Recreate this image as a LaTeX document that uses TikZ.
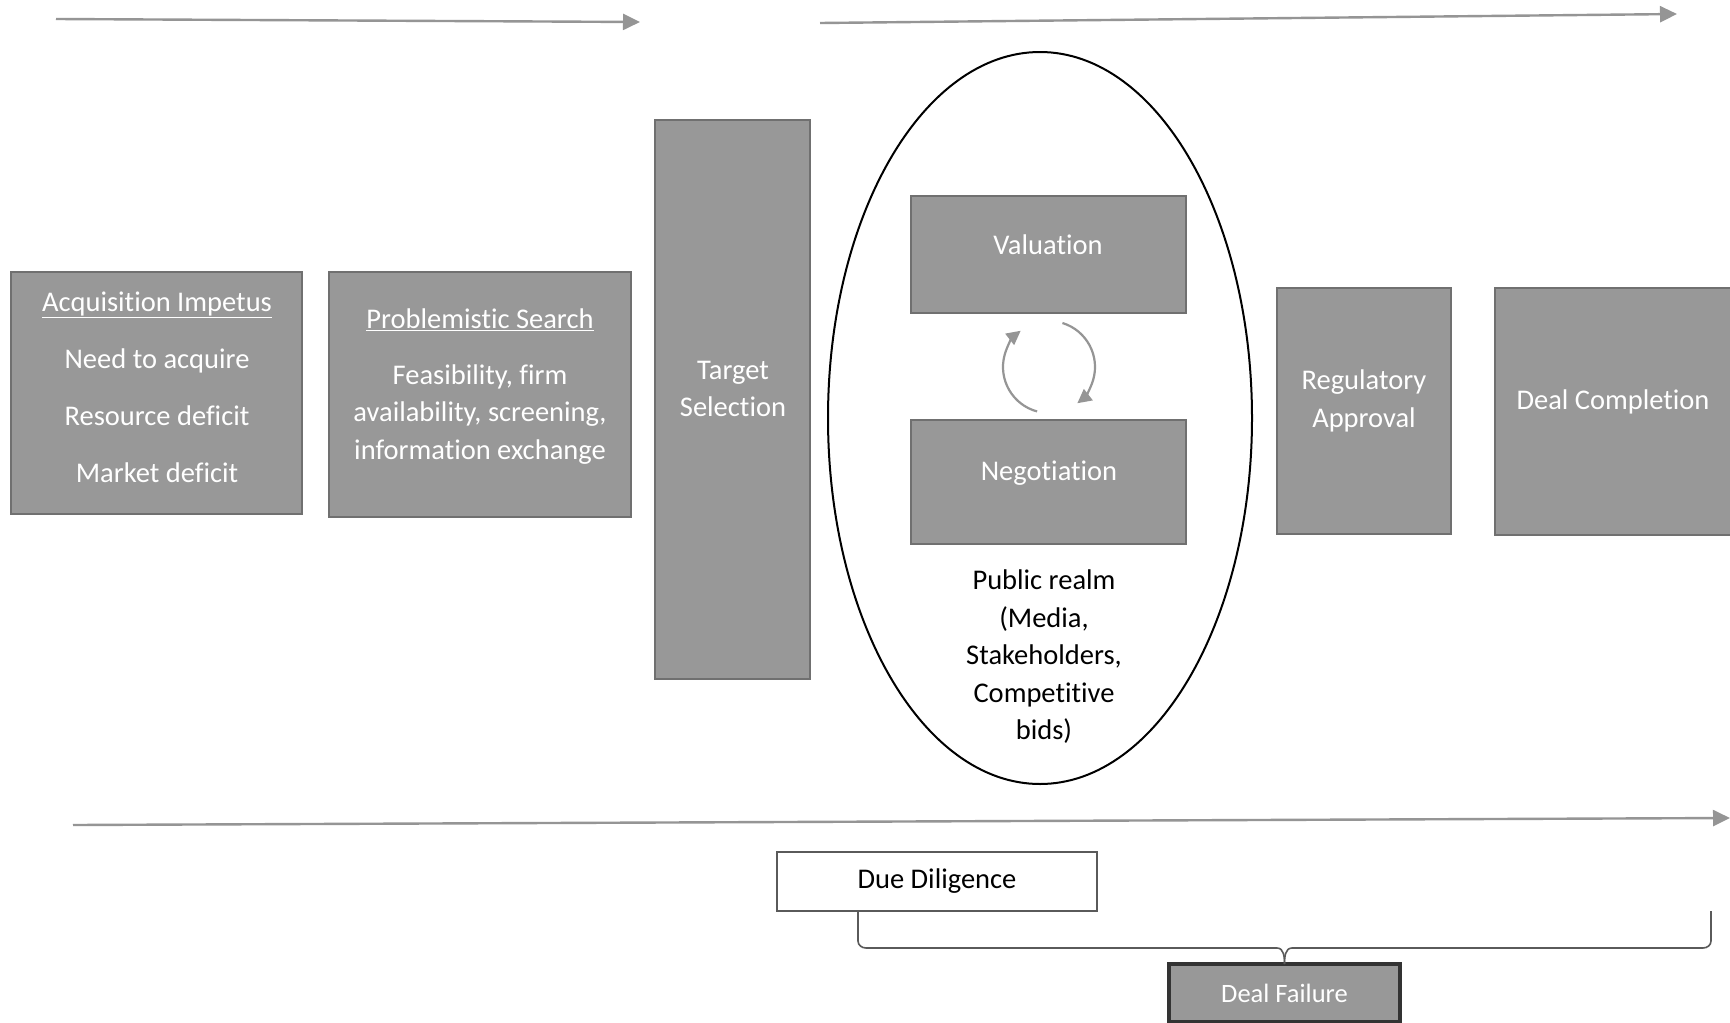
\documentclass[tikz,border=0pt]{standalone}
\usepackage{fontspec}
\setmainfont{Carlito}[Ligatures={NoCommon}]
\usetikzlibrary{arrows.meta,shapes.geometric}
\definecolor{boxfill}{HTML}{989898}
\definecolor{boxline}{HTML}{707070}
\definecolor{arrgray}{HTML}{959595}
\definecolor{bracegray}{HTML}{5A5A5A}
\begin{document}
\begin{tikzpicture}[x=1pt,y=-1pt,
  every node/.style={inner sep=0pt,outer sep=0pt},
  txtfont/.style={font=\fontsize{28.5}{37.5}\selectfont},
  gbox/.style={draw=boxline,fill=boxfill,line width=2pt},
  wtxt/.style={txtfont,text=white,align=center},
  btxt/.style={txtfont,text=black,align=center},
  flow/.style={draw=arrgray,line width=2.4pt,-{Triangle[length=17pt,width=16pt]}},
  cycarrow/.style={draw=arrgray,line width=2.2pt,-{Triangle[length=14pt,width=14pt]}},
  brace/.style={draw=bracegray,line width=1.6pt}]
\useasboundingbox (0,0) rectangle (1730,1023);
\clip (0,0) rectangle (1730,1023);
\fill[white] (0,0) rectangle (1730,1023);

% top and bottom arrows
\coordinate (a1s) at (56,19);
\coordinate (a1e) at (640,22);
\coordinate (a2s) at (820,23);
\coordinate (a2e) at (1677,14);
\coordinate (a3s) at (73,825);
\coordinate (a3e) at (1730,818);
\draw[flow] (a1s) -- (a1e);
\draw[flow] (a2s) -- (a2e);
\draw[flow] (a3s) -- (a3e);

% boxes
\node[gbox,minimum width=291pt,minimum height=242pt] (acq) at (156.5,393) {};
\node[wtxt] (acqT) at (157,387) {\underline{Acquisition Impetus}\\[19.5pt]Need to acquire\\[19.5pt]Resource deficit\\[19.5pt]Market deficit};

\node[gbox,minimum width=302pt,minimum height=245pt] (prob) at (480,394.5) {};
\node[wtxt] (probT) at (480,320) {\underline{Problemistic Search}};
\node[wtxt] (probB) at (480,414.5) {Feasibility, firm\\availability, screening,\\information exchange};

\node[gbox,minimum width=155pt,minimum height=559pt] (tgt) at (732.5,399.5) {};
\node[wtxt] (tgtT) at (733,389) {Target\\Selection};

% ellipse
\node[ellipse,draw=black,line width=2pt,minimum width=424pt,minimum height=732pt] (ell) at (1040,418) {};

\node[gbox,minimum width=275pt,minimum height=117pt] (val) at (1048.5,254.5) {};
\node[wtxt] (valT) at (1048,245) {Valuation};
\node[gbox,minimum width=275pt,minimum height=124pt] (neg) at (1048.5,482) {};
\node[wtxt] (negT) at (1049,473) {Negotiation};

\coordinate (cyc) at (1049,367);
\draw[cycarrow] (cyc) ++(105:46) arc[start angle=105,end angle=232,radius=46];
\draw[cycarrow] (cyc) ++(-73:46) arc[start angle=-73,end angle=52,radius=46];

\node[btxt] (pub) at (1044,657) {Public realm\\(Media,\\Stakeholders,\\Competitive\\bids)};

\node[gbox,minimum width=174pt,minimum height=246pt] (reg) at (1364,411) {};
\node[wtxt] (regT) at (1364,401) {Regulatory\\Approval};
\node[gbox,minimum width=240pt,minimum height=247pt] (done) at (1615,411.5) {};
\node[wtxt] (doneT) at (1613,402) {Deal Completion};

% due diligence and failure
\node[draw=bracegray,fill=white,line width=1.5pt,minimum width=320pt,minimum height=59pt,btxt] (dd) at (937,881.5) {Due Diligence};
\node[draw=black!80,fill=boxfill,line width=3.5pt,minimum width=231pt,minimum height=58pt,text=white,font=\fontsize{26.5}{32}\selectfont] (df) at (1284.5,993) {Deal Failure};

\coordinate (bl) at (858,911);
\coordinate (br) at (1711,911);
\draw[brace] (bl) -- (858,941) to[out=-90,in=180] (866,948) -- (1277,948) to[out=0,in=90] (df.north);
\draw[brace] (br) -- (1711,941) to[out=-90,in=0] (1703,948) -- (1292,948) to[out=180,in=90] (df.north);
\end{tikzpicture}
\end{document}
